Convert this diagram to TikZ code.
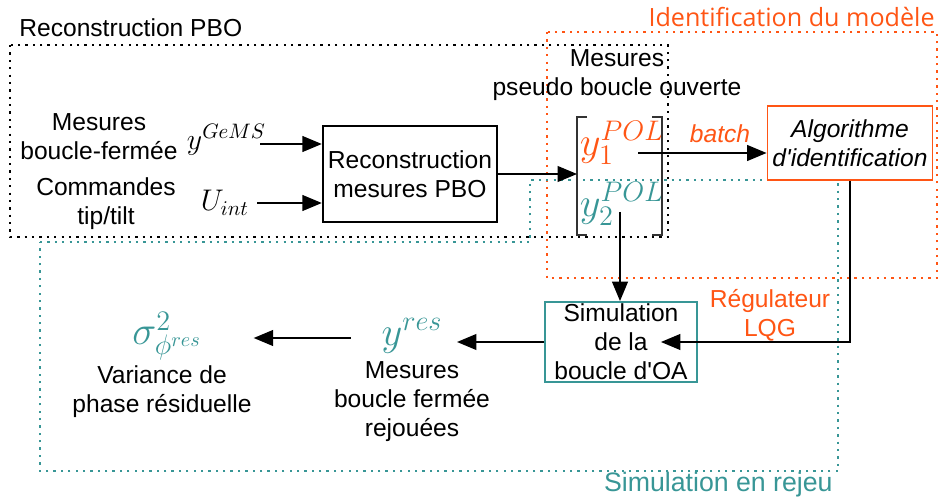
\RequirePackage{fix-cm}
\documentclass[tikz,border=0pt]{standalone}
\usepackage{fontspec}
\setmainfont{Liberation Sans}
\newfontfamily\grpfont{Open Sans}
\usetikzlibrary{arrows.meta, positioning, calc}
\definecolor{cOrange}{RGB}{255,85,20}
\definecolor{cTeal}{RGB}{56,150,150}
\newcommand{\apos}{\textquotesingle}
\tikzset{
	blk/.style ={rectangle, draw=black, line width=1.4pt, align=center, fill=white, inner sep=2pt},
	txt/.style ={align=center, inner sep=1pt},
	msym/.style={inner sep=1pt, font=\fontsize{17}{20}\selectfont},
	bsym/.style={inner sep=1pt, font=\fontsize{23}{26}\selectfont},
	grp/.style ={line width=1.3pt, dash pattern=on 1.3pt off 2.9pt},
	sig/.style ={-{Triangle[length=11pt, width=9pt]}, line width=0.8pt},
	brk/.style ={line width=0.9pt, black!80},
}
\begin{document}
\begin{tikzpicture}[x=0.02cm, y=-0.02cm, font=\fontsize{14}{16.5}\selectfont]
	\useasboundingbox (0,0) rectangle (941,500);
	% groups
	\draw[grp] (10,45) rectangle (668,237);
	\draw[grp, cOrange] (547,32) rectangle (937,278);
	\draw[grp, cTeal] (40,242) -- (530,242) -- (530,180) -- (838,180) -- (838,471) -- (40,471) -- cycle;
	\node[anchor=west, inner sep=0pt] (tReco) at (19,28) {Reconstruction PBO};
	\node[anchor=east, inner sep=0pt, text=cOrange, font=\grpfont\fontsize{14.3}{16}\selectfont] (tIdent) at (935,17) {Identification du modèle};
	\node[anchor=east, inner sep=0pt, text=cTeal, font=\fontsize{15.2}{17}\selectfont] (tSim) at (833,485) {Simulation en rejeu};
	% blocks
	\node[blk, minimum width=3.48cm, minimum height=1.92cm] (reco) at (410,174) {Reconstruction\\mesures PBO};
	\node[blk, draw=cOrange, line width=1.1pt, minimum width=3.3cm, minimum height=1.48cm, font=\itshape\fontsize{14}{16.5}\selectfont] (algo) at (850,143) {Algorithme\\d\apos identification};
	\node[blk, draw=cTeal, line width=1.1pt, minimum width=3.04cm, minimum height=1.6cm, inner sep=0pt] (sim) at (621,342) {Simulation\\de la\\boucle d\apos OA};
	% signals
	\node[txt] (lMes) at (99,137) {Mesures\\boucle-fermée};
	\node[txt] (lCom) at (106,204) {Commandes\\tip/tilt};
	\node[msym, anchor=east] (yG) at (268,140) {$y^{GeMS}$};
	\node[msym, anchor=east] (uI) at (251,203) {$U_{int}$};
	\node[txt] (lPol) at (617,75) {Mesures\\pseudo boucle ouverte};
	\node[bsym, text=cOrange] (y1) at (622,143) {$y_1^{POL}$};
	\node[bsym, text=cTeal] (y2) at (622,204) {$y_2^{POL}$};
	\draw[brk] (587,117) -- (577,117) -- (577,235) -- (587,235);
	\draw[brk] (652,117) -- (662,117) -- (662,235) -- (652,235);
	\coordinate (brL) at (577,117);
	\coordinate (b1) at (638,153);
	\coordinate (b2) at (620,212);
	\node[txt, text=cOrange, font=\itshape\fontsize{14}{16.5}\selectfont] (lBatch) at (720,134) {batch};
	\node[txt, text=cOrange] (lLqg) at (770,315) {Régulateur\\LQG};
	\node[bsym, text=cTeal] (yres) at (412,336) {$y^{res}$};
	\node[txt] (lRes) at (412,402) {Mesures\\boucle fermée\\rejouées};
	\node[bsym, text=cTeal] (sigma) at (167,336) {$\sigma^2_{\phi^{res}}$};
	\node[txt] (lVar) at (162,392) {Variance de\\phase résiduelle};
	% connections
	\draw[sig] ($(yG.east)+(-8,4)$) -- ($(yG.east -| reco.west)+(0,4)$);
	\draw[sig] ($(uI.east)+(6,0)$) -- (uI.east -| reco.west);
	\draw[sig] (reco.east) -- (reco.east -| brL);
	\draw[sig] (b1) -- (b1 -| algo.west);
	\draw[sig] (b2) -- (b2 |- sim.north);
	\draw[sig] (algo.south) |- ($(sim.east)+(-37,0)$);
	\draw[sig] (sim.west) -- ($(sim.west)+(-87,0)$);
	\draw[sig] ($(yres.west)+(-29,2)$) -- ($(sigma.east)+(50,2)$);
\end{tikzpicture}
\end{document}
